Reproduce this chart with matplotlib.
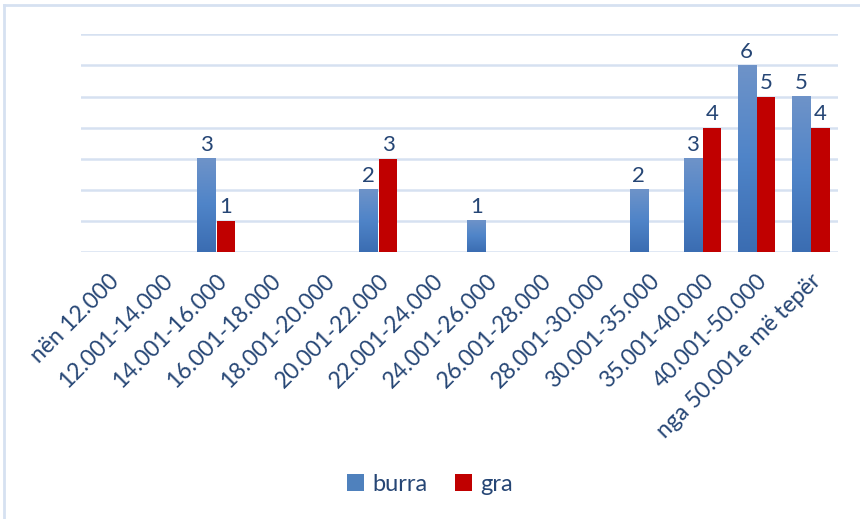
import numpy as np
import matplotlib.pyplot as plt
from matplotlib.lines import Line2D
from matplotlib.patches import Patch
from matplotlib.colors import LinearSegmentedColormap

categories = ['nën 12.000', '12.001-14.000', '14.001-16.000', '16.001-18.000',
              '18.001-20.000', '20.001-22.000', '22.001-24.000', '24.001-26.000',
              '26.001-28.000', '28.001-30.000', '30.001-35.000', '35.001-40.000',
              '40.001-50.000', 'nga 50.001e më tepër']
burra = [0, 0, 3, 0, 0, 2, 0, 1, 0, 0, 2, 3, 6, 5]
gra = [0, 0, 1, 0, 0, 3, 0, 0, 0, 0, 0, 4, 5, 4]

txt_color = '#264675'
grid_color = '#d6e1f1'
red = '#c00000'
blue_cmap = LinearSegmentedColormap.from_list('b', ['#3b6db2', '#4f84c8', '#6e93c9'])

plt.rcParams['font.family'] = ['Lato', 'DejaVu Sans']

fig = plt.figure(figsize=(8.6, 5.19), dpi=100)
ax = fig.add_axes([0.094, 0.514, 0.88, 0.42])

x = np.arange(len(categories))
w = 0.335
gap = 0.03
bb = ax.bar(x - w / 2 - gap / 2, burra, w, color='#4f81bd', zorder=2)
bg = ax.bar(x + w / 2 + gap / 2, gra, w, color=red, zorder=2)

# gradient fill on the blue bars
grad = np.linspace(0, 1, 100).reshape(-1, 1)
for b in bb:
    h = b.get_height()
    if h == 0:
        b.set_visible(False)
        continue
    b.set_facecolor('none')
    ax.imshow(grad, cmap=blue_cmap, aspect='auto', origin='lower',
              extent=[b.get_x(), b.get_x() + b.get_width(), 0, h], zorder=2)
for b in bg:
    if b.get_height() == 0:
        b.set_visible(False)

for bars, vals in ((bb, burra), (bg, gra)):
    for b, v in zip(bars, vals):
        if v > 0:
            ax.text(b.get_x() + b.get_width() / 2, v + 0.12, str(v), ha='center',
                    va='bottom', fontsize=16, color=txt_color)

ax.set_xlim(-0.5, len(categories) - 0.5)
ax.set_ylim(0, 7)
ax.set_yticks(range(0, 8))
ax.set_yticklabels([])
ax.yaxis.grid(True, color=grid_color, linewidth=1.8, zorder=0)
ax.set_axisbelow(True)
ax.tick_params(length=0)
for s in ax.spines.values():
    s.set_visible(False)
ax.set_xticks(x)
ax.set_xticklabels(categories, rotation=45, ha='right', rotation_mode='anchor',
                   fontsize=16.5, color=txt_color)
ax.tick_params(axis='x', pad=13)

handles = [Patch(facecolor='#4f81bd'), Patch(facecolor=red)]
fig.legend(handles, ['burra', 'gra'], loc='center', bbox_to_anchor=(0.5, 0.067),
           ncol=2, frameon=False, handlelength=0.7, handleheight=0.7,
           handletextpad=0.35, columnspacing=1.2, prop={'size': 17},
           labelcolor=txt_color)

# chart border
fig.add_artist(Line2D([4 / 860, 1], [1 - 5 / 519, 1 - 5 / 519], color=grid_color, lw=2))
fig.add_artist(Line2D([4 / 860, 4 / 860], [0, 1 - 5 / 519], color=grid_color, lw=2))

fig.savefig('out.png', dpi=100)
